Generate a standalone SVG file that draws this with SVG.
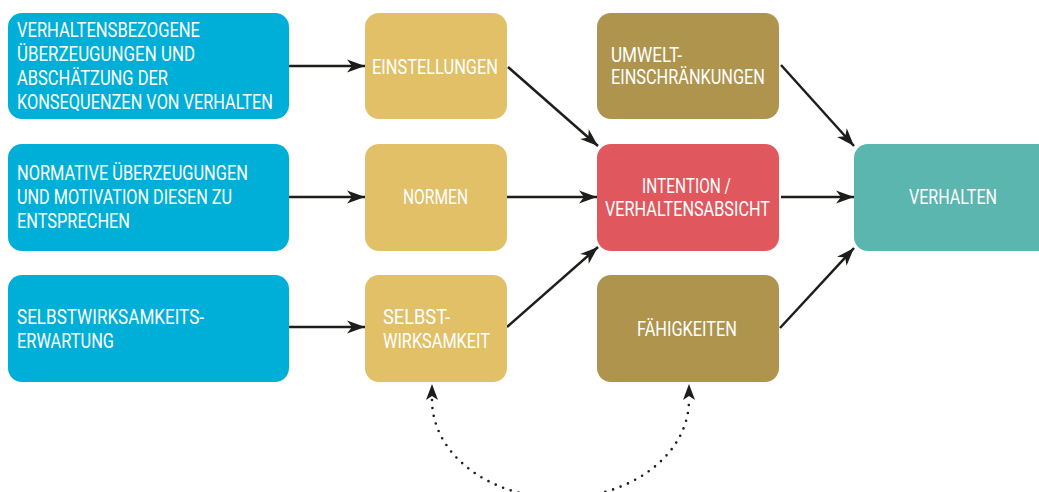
<svg xmlns="http://www.w3.org/2000/svg" width="1039" height="492" viewBox="0 0 1039 492">
  <style>
    .box { stroke: none; }
    .blue { fill: #00AFD7; }
    .sand { fill: #E1C067; }
    .olive { fill: #AF944D; }
    .red { fill: #E0585E; }
    .teal { fill: #5AB6AE; }
    text { font-family: Roboto, "Liberation Sans", sans-serif; font-size: 19.5px; fill: #FFFFFF; }
    .link { fill: none; stroke: #1D1D1B; stroke-width: 2.5; marker-end: url(#head); }
    .loop { fill: none; stroke: #1D1D1B; stroke-width: 2.6; stroke-linecap: round; stroke-dasharray: 0 8; marker-start: url(#head-up); marker-end: url(#head-up); }
  </style>
  <defs>
    <marker id="head" markerUnits="userSpaceOnUse" markerWidth="20" markerHeight="14" refX="18" refY="6.5" orient="auto" overflow="visible">
      <path d="M0,0 L18,6.5 L0,13 L5,6.5 Z" fill="#1D1D1B"/>
    </marker>
    <marker id="head-up" markerUnits="userSpaceOnUse" markerWidth="18" markerHeight="14" refX="0" refY="6" orient="auto-start-reverse" overflow="visible">
      <path d="M0,0 L16,6 L0,12 L4,6 Z" fill="#1D1D1B"/>
    </marker>
  </defs>

  <!-- connectors -->
  <g id="connectors">
    <path class="link" d="M289,66 L365,66"/>
    <path class="link" d="M289,197 L365,197"/>
    <path class="link" d="M289,327 L365,327"/>
    <path class="link" d="M508,67 L598,146"/>
    <path class="link" d="M507,197 L597,197"/>
    <path class="link" d="M507,327 L598,247"/>
    <path class="link" d="M781,65 L854,146"/>
    <path class="link" d="M781,197 L854,197"/>
    <path class="link" d="M780,328 L854,248"/>
    <path class="loop" d="M432,400 A128.5,98 0 0 0 689,400"/>
  </g>

  <!-- left column: beliefs -->
  <g id="beliefs-behaviour">
    <rect class="box blue" x="8" y="13" width="281" height="106" rx="14"/>
    <text x="17" y="37" textLength="183" lengthAdjust="spacingAndGlyphs">VERHALTENSBEZOGENE</text>
    <text x="17" y="61" textLength="178" lengthAdjust="spacingAndGlyphs">ÜBERZEUGUNGEN UND</text>
    <text x="17" y="85" textLength="151" lengthAdjust="spacingAndGlyphs">ABSCHÄTZUNG DER</text>
    <text x="17" y="109" textLength="256" lengthAdjust="spacingAndGlyphs">KONSEQUENZEN VON VERHALTEN</text>
  </g>
  <g id="beliefs-normative">
    <rect class="box blue" x="8" y="144" width="281" height="107" rx="14"/>
    <text x="17" y="180" textLength="231" lengthAdjust="spacingAndGlyphs">NORMATIVE ÜBERZEUGUNGEN</text>
    <text x="17" y="204" textLength="215" lengthAdjust="spacingAndGlyphs">UND MOTIVATION DIESEN ZU</text>
    <text x="17" y="228" textLength="113" lengthAdjust="spacingAndGlyphs">ENTSPRECHEN</text>
  </g>
  <g id="beliefs-efficacy">
    <rect class="box blue" x="8" y="275" width="281" height="107" rx="14"/>
    <text x="17" y="324" textLength="187" lengthAdjust="spacingAndGlyphs">SELBSTWIRKSAMKEITS-</text>
    <text x="17" y="348" textLength="97" lengthAdjust="spacingAndGlyphs">ERWARTUNG</text>
  </g>

  <!-- middle column: determinants -->
  <g id="einstellungen">
    <rect class="box sand" x="365" y="13" width="142" height="106" rx="14"/>
    <text x="372" y="74" textLength="126" lengthAdjust="spacingAndGlyphs">EINSTELLUNGEN</text>
  </g>
  <g id="normen">
    <rect class="box sand" x="365" y="144" width="142" height="107" rx="14"/>
    <text x="403" y="204" textLength="65" lengthAdjust="spacingAndGlyphs">NORMEN</text>
  </g>
  <g id="selbstwirksamkeit">
    <rect class="box sand" x="365" y="275" width="142" height="107" rx="14"/>
    <text x="383" y="324" textLength="67" lengthAdjust="spacingAndGlyphs">SELBST-</text>
    <text x="383" y="348" textLength="107" lengthAdjust="spacingAndGlyphs">WIRKSAMKEIT</text>
  </g>

  <!-- intention and moderators -->
  <g id="umwelt">
    <rect class="box olive" x="597" y="13" width="182" height="106" rx="14"/>
    <text x="611" y="62" textLength="71" lengthAdjust="spacingAndGlyphs">UMWELT-</text>
    <text x="611" y="84" textLength="154" lengthAdjust="spacingAndGlyphs">EINSCHRÄNKUNGEN</text>
  </g>
  <g id="intention">
    <rect class="box red" x="597" y="144" width="182" height="107" rx="14"/>
    <text x="642" y="193" textLength="89" lengthAdjust="spacingAndGlyphs">INTENTION /</text>
    <text x="605" y="216" textLength="165" lengthAdjust="spacingAndGlyphs">VERHALTENSABSICHT</text>
  </g>
  <g id="faehigkeiten">
    <rect class="box olive" x="597" y="275" width="182" height="107" rx="14"/>
    <text x="637" y="336" textLength="100" lengthAdjust="spacingAndGlyphs">FÄHIGKEITEN</text>
  </g>

  <!-- outcome -->
  <g id="verhalten">
    <rect class="box teal" x="854" y="144" width="200" height="107" rx="14"/>
    <text x="909" y="204" textLength="88" lengthAdjust="spacingAndGlyphs">VERHALTEN</text>
  </g>
</svg>
